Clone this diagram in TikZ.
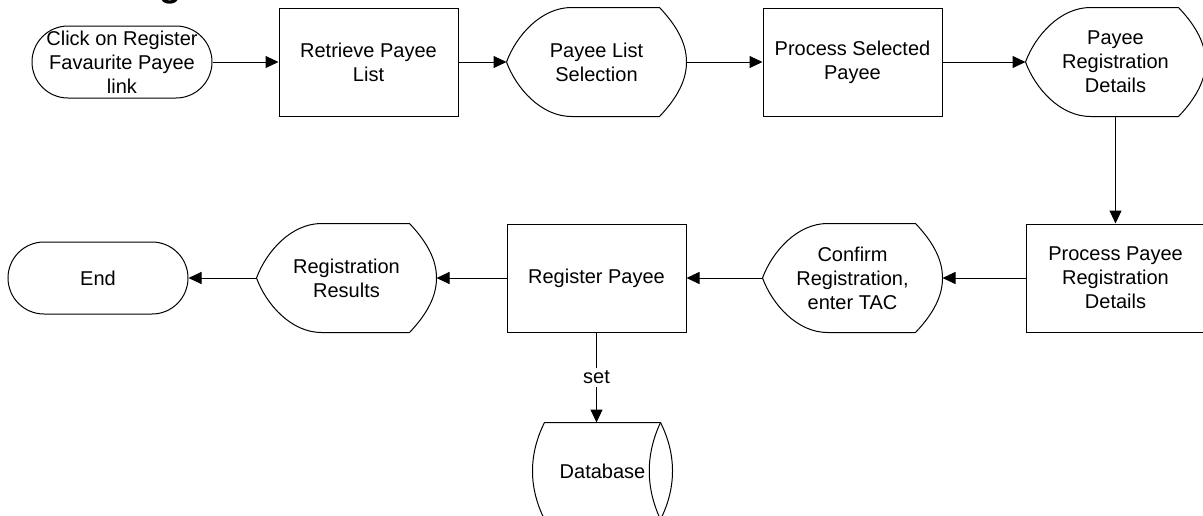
\documentclass[tikz,border=0pt]{standalone}
\usepackage{fontspec}
\setmainfont{Liberation Sans}
\usepackage{tikz}
\usetikzlibrary{arrows.meta, positioning}

% outline of a display shape drawn round a named node
\newcommand{\dispshape}[1]{%
  \draw (#1.west) .. controls ([shift={(5pt,13.5pt)}]#1.west) and ([xshift=17.5pt]#1.north west) .. ([xshift=32.5pt]#1.north west)
    -- ([xshift=-13.5pt]#1.north east) .. controls ([shift={(-4pt,-10pt)}]#1.north east) and ([yshift=8.5pt]#1.east) .. (#1.east)
    .. controls ([yshift=-8.5pt]#1.east) and ([shift={(-4pt,10pt)}]#1.south east) .. ([xshift=-13.5pt]#1.south east)
    -- ([xshift=32.5pt]#1.south west) .. controls ([xshift=17.5pt]#1.south west) and ([shift={(5pt,-13.5pt)}]#1.west) .. cycle;}
% outline of a stored data shape drawn round a named node
\newcommand{\storeshape}[1]{%
  \draw ([xshift=6pt]#1.north west) -- ([xshift=-6pt]#1.north east)
    .. controls ([shift={(2pt,-16pt)}]#1.north east) and ([shift={(2pt,16pt)}]#1.south east) .. ([xshift=-6pt]#1.south east)
    -- ([xshift=6pt]#1.south west)
    .. controls ([shift={(-2pt,16pt)}]#1.south west) and ([shift={(-2pt,-16pt)}]#1.north west) .. cycle;
  \draw ([xshift=-6pt]#1.north east) .. controls ([shift={(-13.5pt,-16pt)}]#1.north east) and ([shift={(-13.5pt,16pt)}]#1.south east) .. ([xshift=-6pt]#1.south east);}

\begin{document}
\begin{tikzpicture}[
    x=0.5pt, y=-0.5pt,
    line width=0.5pt,
    every node/.style={font=\fontsize{10}{12}\selectfont, align=center},
    proc/.style={draw, rectangle, minimum width=89.5pt, minimum height=54pt, inner sep=2pt},
    disp/.style={rectangle, minimum width=89.5pt, minimum height=54pt, inner sep=2pt},
    term/.style={draw, rounded corners=18pt, minimum width=90pt, minimum height=36pt, inner sep=0pt},
    store/.style={rectangle, minimum width=69.5pt, minimum height=48pt, inner sep=0pt},
    arr/.style={-{Triangle[length=6.5pt, width=6pt]}}
]
    \useasboundingbox (0,0) rectangle (1203,515);
    \node[font=\fontsize{18}{20}\selectfont\bfseries, anchor=south, inner sep=0pt] (title) at (170,5) {g};

    % top row
    \node[term] (start) at (122,62) {Click on Register\\Favaurite Payee\\link};
    \node[proc, right=33pt of start] (retrieve) {Retrieve Payee\\List};
    \node[disp, right=24pt of retrieve] (listsel) {Payee List\\Selection};
    \node[proc, right=38pt of listsel] (procsel) {Process Selected\\Payee};
    \node[disp, right=41.5pt of procsel] (regdet) {Payee\\Registration\\Details};

    % bottom row
    \node[proc, below=53.5pt of regdet] (procreg) {Process Payee\\Registration\\Details};
    \node[disp, left=41.5pt of procreg] (confirm) {Confirm\\Registration,\\enter TAC};
    \node[proc, left=38pt of confirm] (regpay) {Register Payee};
    \node[disp, left=35pt of regpay] (results) {Registration\\Results};
    \node[term, left=34pt of results] (end) {End};
    \node[store, below=45pt of regpay, xshift=3pt] (db) {Database};

    \dispshape{listsel}
    \dispshape{regdet}
    \dispshape{confirm}
    \dispshape{results}
    \storeshape{db}

    % connectors
    \draw[arr] (start.east) -- (retrieve.west);
    \draw[arr] (retrieve.east) -- (listsel.west);
    \draw[arr] (listsel.east) -- (procsel.west);
    \draw[arr] (procsel.east) -- (regdet.west);
    \draw[arr] (regdet.south) -- (procreg.north);
    \draw[arr] (procreg.west) -- (confirm.east);
    \draw[arr] (confirm.west) -- (regpay.east);
    \draw[arr] (regpay.west) -- (results.east);
    \draw[arr] (results.west) -- (end.east);
    \draw[arr] (regpay.south) -- node[fill=white, inner sep=1.5pt] {set} (regpay.south |- db.north);
\end{tikzpicture}
\end{document}
